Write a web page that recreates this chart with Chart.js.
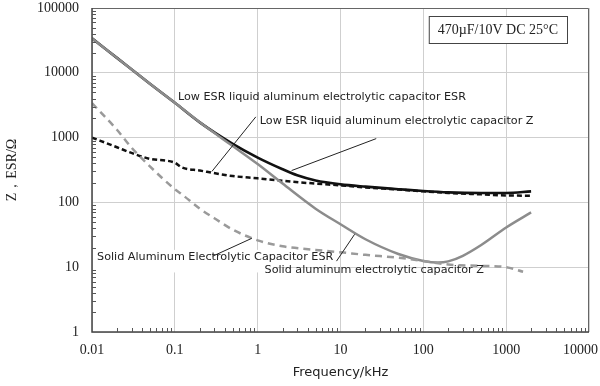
<!DOCTYPE html>
<html>
<head>
<meta charset="utf-8">
<script src="https://cdn.jsdelivr.net/npm/chart.js@4.4.1/dist/chart.umd.min.js"></script>
<style>
  html, body { margin: 0; background: #fff; }
  #wrap { width: 600px; height: 386px; }
</style>
</head>
<body>
<div id="wrap"><canvas id="chart"></canvas></div>
<script>
// tick values (decades)
const xTicks = [0.01, 0.1, 1, 10, 100, 1000, 10000];
const yTicks = [1, 10, 100, 1000, 10000, 100000];

// Low ESR liquid aluminum electrolytic capacitor: Z (solid black)
const liquidZFreq = [0.01, 0.02, 0.05, 0.1, 0.2, 0.5, 1, 2, 3, 5, 10, 20, 50, 100, 200, 500, 1000, 2000];
const liquidZ     = [34000, 17000, 6800, 3450, 1720, 800, 492, 325, 262, 218, 190, 175, 160, 150, 143, 140, 140, 148];

// Low ESR liquid aluminum electrolytic capacitor: ESR (dashed black)
const liquidEsrFreq = [0.01, 0.02, 0.03, 0.05, 0.1, 0.12, 0.2, 0.5, 1, 2, 5, 10, 20, 50, 100, 200, 500, 1000, 2000];
const liquidEsr     = [1000, 710, 580, 470, 410, 350, 310, 255, 235, 215, 195, 183, 170, 158, 148, 140, 133, 128, 127];

// Solid aluminum electrolytic capacitor: Z (solid gray)
const solidZFreq = [0.01, 0.02, 0.05, 0.1, 0.2, 0.5, 1, 2, 5, 10, 20, 50, 100, 150, 200, 300, 500, 1000, 2000];
const solidZ     = [34000, 17000, 6800, 3450, 1720, 740, 390, 195, 80, 46, 27, 16, 12.5, 11.8, 12.3, 15, 22, 41, 70];

// Solid aluminum electrolytic capacitor: ESR (dashed gray)
const solidEsrFreq = [0.01, 0.02, 0.03, 0.05, 0.1, 0.12, 0.2, 0.3, 0.5, 1, 2, 5, 10, 20, 50, 100, 200, 500, 1000, 1600];
const solidEsr     = [3400, 1320, 700, 360, 160, 135, 80, 57, 38, 26, 21, 18.5, 17, 15.5, 14, 12.5, 11, 10.5, 10, 8.5];

const pts = (fs, vs) => fs.map((f, i) => ({ x: f, y: vs[i] }));

// annotation labels placed in data coordinates (kHz, value)
const labels = [
  { text: 'Low ESR liquid aluminum electrolytic capacitor ESR', x: 0.109, y: 4270 },
  { text: 'Low ESR liquid aluminum electrolytic capacitor Z', x: 1.06, y: 1820 },
  { text: 'Solid Aluminum Electrolytic Capacitor ESR', x: 0.0115, y: 14.3 },
  { text: 'Solid aluminum electrolytic capacitor Z', x: 1.21, y: 9.0 }
];
const leaders = [
  [[0.95, 2090], [0.28, 300]],
  [[27, 965], [2.57, 310]],
  [[0.287, 14.8], [0.85, 27.9]],
  [[8.95, 12.4], [14.8, 32.2]]
];

const decor = {
  id: 'decor',
  beforeDatasetsDraw(chart) {
    const { ctx, chartArea: a, scales: { x, y } } = chart;
    // white patch behind the solid ESR label (hides grid there)
    ctx.save();
    ctx.fillStyle = '#fff';
    ctx.fillRect(a.left + 1, y.getPixelForValue(18.5), x.getPixelForValue(1.6) - a.left, y.getPixelForValue(8.3) - y.getPixelForValue(18.5));
    ctx.restore();
  },
  afterDatasetsDraw(chart) {
    const { ctx, chartArea: a, scales: { x, y } } = chart;
    ctx.save();
    // frame
    ctx.strokeStyle = '#666';
    ctx.lineWidth = 1;
    ctx.beginPath();
    ctx.moveTo(a.left, a.top + 0.5); ctx.lineTo(a.right - 0.5, a.top + 0.5); ctx.lineTo(a.right - 0.5, a.bottom);
    ctx.stroke();
    ctx.strokeStyle = '#444';
    ctx.lineWidth = 1.5;
    ctx.beginPath();
    ctx.moveTo(a.left, a.top); ctx.lineTo(a.left, a.bottom); ctx.lineTo(a.right, a.bottom);
    ctx.stroke();

    // minor ticks pointing inward
    ctx.lineWidth = 1;
    ctx.strokeStyle = '#555';
    ctx.beginPath();
    for (let d = 1; d < 100000; d *= 10) {
      for (let k = 2; k <= 9; k++) {
        const py = Math.round(y.getPixelForValue(k * d)) + 0.5;
        ctx.moveTo(a.left, py); ctx.lineTo(a.left + 4, py);
      }
    }
    for (let d = 0.01; d < 10000; d *= 10) {
      for (let k = 2; k <= 9; k++) {
        const px = Math.round(x.getPixelForValue(k * d)) + 0.5;
        ctx.moveTo(px, a.bottom); ctx.lineTo(px, a.bottom - 4);
      }
    }
    ctx.stroke();

    // x tick labels (last one kept inside the canvas)
    ctx.fillStyle = '#222';
    ctx.font = '14px "Liberation Serif"';
    ctx.textBaseline = 'middle';
    ctx.textAlign = 'center';
    xTicks.forEach(v => {
      const t = String(v);
      const w = ctx.measureText(t).width;
      let px = x.getPixelForValue(v);
      if (px + w / 2 > chart.width - 2) px = chart.width - 2 - w / 2;
      ctx.fillText(t, px, a.bottom + 18);
    });

    // leader lines
    ctx.strokeStyle = '#222';
    ctx.lineWidth = 1;
    ctx.beginPath();
    leaders.forEach(([p, q]) => {
      ctx.moveTo(x.getPixelForValue(p[0]), y.getPixelForValue(p[1]));
      ctx.lineTo(x.getPixelForValue(q[0]), y.getPixelForValue(q[1]));
    });
    ctx.stroke();

    // labels
    ctx.font = '11.2px "DejaVu Sans"';
    ctx.textAlign = 'left';
    labels.forEach(l => ctx.fillText(l.text, x.getPixelForValue(l.x), y.getPixelForValue(l.y)));

    // condition box
    const txt = '470\u00b5F/10V DC 25\u00b0C';
    ctx.font = '14px "Liberation Serif"';
    const w = ctx.measureText(txt).width + 18;
    const bx = a.right - 22 - w, by = a.top + 8;
    ctx.fillStyle = '#fff';
    ctx.fillRect(bx, by, w, 27);
    ctx.strokeStyle = '#444';
    ctx.strokeRect(bx + 0.5, by + 0.5, w, 27);
    ctx.fillStyle = '#222';
    ctx.fillText(txt, bx + 9, by + 14);
    ctx.restore();
  }
};

new Chart(document.getElementById('chart'), {
  type: 'scatter',
  data: {
    datasets: [
      { label: 'Solid ESR', data: pts(solidEsrFreq, solidEsr), borderColor: '#9a9a9a', borderWidth: 2.5, borderDash: [7, 5] },
      { label: 'Solid Z', data: pts(solidZFreq, solidZ), borderColor: '#8c8c8c', borderWidth: 2.5 },
      { label: 'Liquid ESR', data: pts(liquidEsrFreq, liquidEsr), borderColor: '#111', borderWidth: 2.5, borderDash: [5, 3] },
      { label: 'Liquid Z', data: pts(liquidZFreq, liquidZ), borderColor: '#111', borderWidth: 2.6 }
    ]
  },
  options: {
    responsive: true,
    maintainAspectRatio: false,
    animation: false,
    showLine: true,
    elements: {
      point: { radius: 0, hoverRadius: 0 },
      line: { cubicInterpolationMode: 'monotone', borderCapStyle: 'butt' }
    },
    layout: { padding: { top: 8, right: 11, left: 0, bottom: 0 } },
    plugins: { legend: { display: false }, tooltip: { enabled: false } },
    scales: {
      x: {
        type: 'logarithmic',
        min: 0.01,
        max: 10000,
        afterBuildTicks: s => { s.ticks = xTicks.map(v => ({ value: v })); },
        afterFit: s => { s.height = 54; s.paddingLeft = 0; s.paddingRight = 0; },
        grid: { color: '#cfcfcf', drawTicks: false },
        border: { display: false },
        ticks: { display: false },
        title: {
          display: true,
          text: 'Frequency/kHz',
          color: '#222',
          font: { family: 'DejaVu Sans', size: 13 },
          padding: { top: 2, bottom: 6 }
        }
      },
      y: {
        type: 'logarithmic',
        min: 1,
        max: 100000,
        afterBuildTicks: s => { s.ticks = yTicks.map(v => ({ value: v })); },
        afterFit: s => { s.width = 92; s.paddingTop = 0; s.paddingBottom = 0; },
        grid: { color: '#cfcfcf', drawTicks: false },
        border: { display: false },
        ticks: {
          padding: 13,
          color: '#222',
          font: { family: 'Liberation Serif', size: 14 },
          callback: v => String(v)
        },
        title: {
          display: true,
          text: 'Z\uff0cESR/\u03a9',
          color: '#222',
          font: { family: 'Liberation Serif', size: 14 },
          padding: { top: 4, bottom: 0 }
        }
      }
    }
  },
  plugins: [decor]
});
</script>
</body>
</html>
